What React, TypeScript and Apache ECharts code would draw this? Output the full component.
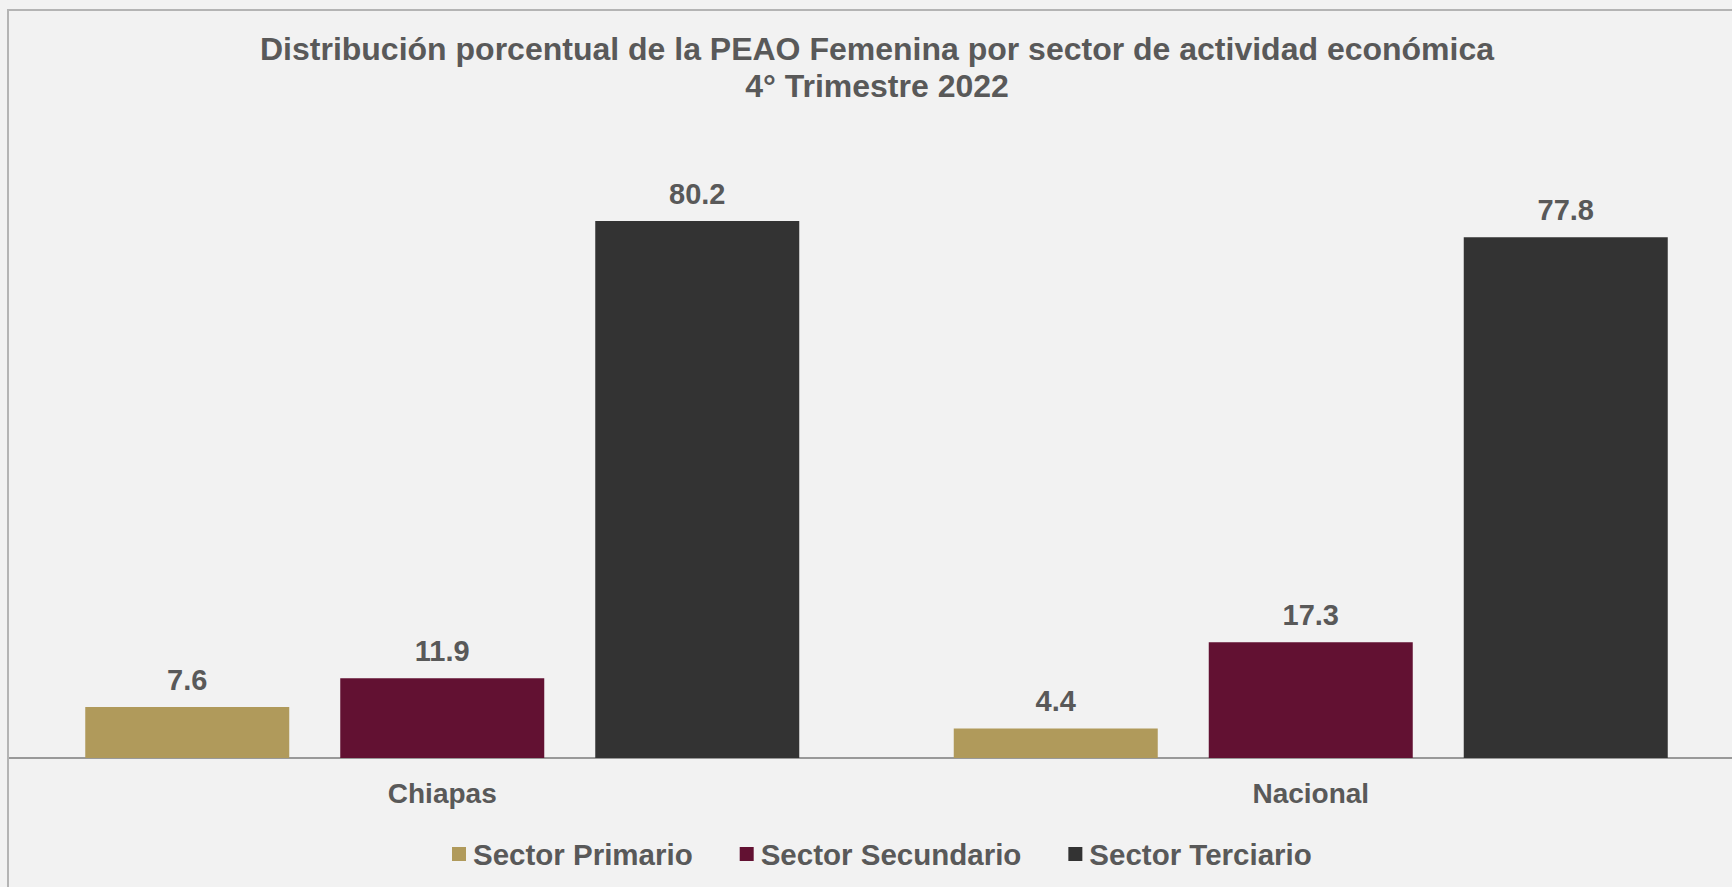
import React, { useEffect, useRef } from "react";
import * as echarts from "echarts";

const categories = ["Chiapas", "Nacional"];
const seriesNames = ["Sector Primario", "Sector Secundario", "Sector Terciario"];
const primario = [7.6, 4.4];
const secundario = [11.9, 17.3];
const terciario = [80.2, 77.8];
const colors = ["#b09a5b", "#621132", "#333333"];
const titleText = "Distribución porcentual de la PEAO Femenina por sector de actividad económica\n4° Trimestre 2022";

const FONT = "'Liberation Sans', Arial, sans-serif";
const TEXT = "#595959";

export default function App() {
  const ref = useRef<HTMLDivElement>(null);
  useEffect(() => {
    if (!ref.current) return;
    const chart = echarts.init(ref.current, null, { renderer: "svg" });
    const values = [primario, secundario, terciario];
    chart.setOption({
      animation: false,
      backgroundColor: "#f2f2f2",
      textStyle: { fontFamily: FONT },
      title: {
        text: titleText,
        left: 877,
        top: 30,
        padding: 0,
        textAlign: "center",
        textStyle: {
          fontFamily: FONT,
          fontSize: 32,
          fontWeight: "bold",
          color: TEXT,
          lineHeight: 37.5,
        },
      },
      legend: {
        data: seriesNames,
        left: 452,
        top: 839,
        padding: 0,
        itemWidth: 14,
        itemHeight: 14,
        itemGap: 47,
        icon: "rect",
        textStyle: { fontFamily: FONT, fontSize: 29.5, fontWeight: "bold", color: TEXT, padding: [0, 0, 0, 2] },
      },
      grid: { left: 8, right: 9, top: 88.5, bottom: 129, containLabel: false },
      xAxis: {
        type: "category",
        data: categories,
        axisLine: { show: true, lineStyle: { color: "#999999", width: 2 } },
        axisTick: { show: false },
        axisLabel: { fontFamily: FONT, fontSize: 28, fontWeight: "bold", color: TEXT, margin: 21 },
      },
      yAxis: {
        type: "value",
        min: 0,
        max: 100,
        show: false,
        splitLine: { show: false },
      },
      series: seriesNames.map((name, i) => ({
        name,
        type: "bar",
        data: values[i],
        barWidth: 204,
        barGap: "25%",
        itemStyle: { color: colors[i] },
        label: {
          show: true,
          position: "top",
          distance: 13,
          formatter: (p: any) => Number(p.value).toFixed(1),
          fontFamily: FONT,
          fontSize: 29,
          fontWeight: "bold",
          color: TEXT,
        },
      })),
      graphic: [
        {
          type: "rect",
          shape: { x: 8, y: 10, width: 3000, height: 3000 },
          style: { fill: "none", stroke: "#b4b4b4", lineWidth: 2 },
          silent: true,
          z: 100,
        },
      ],
    });
    return () => chart.dispose();
  }, []);
  return (
    <div style={{ position: "fixed", left: 0, top: 0, right: 0, bottom: 0, overflow: "hidden", background: "#f2f2f2" }}>
      <div ref={ref} style={{ position: "absolute", left: 0, top: 0, width: 1754, height: 887 }} />
    </div>
  );
}
